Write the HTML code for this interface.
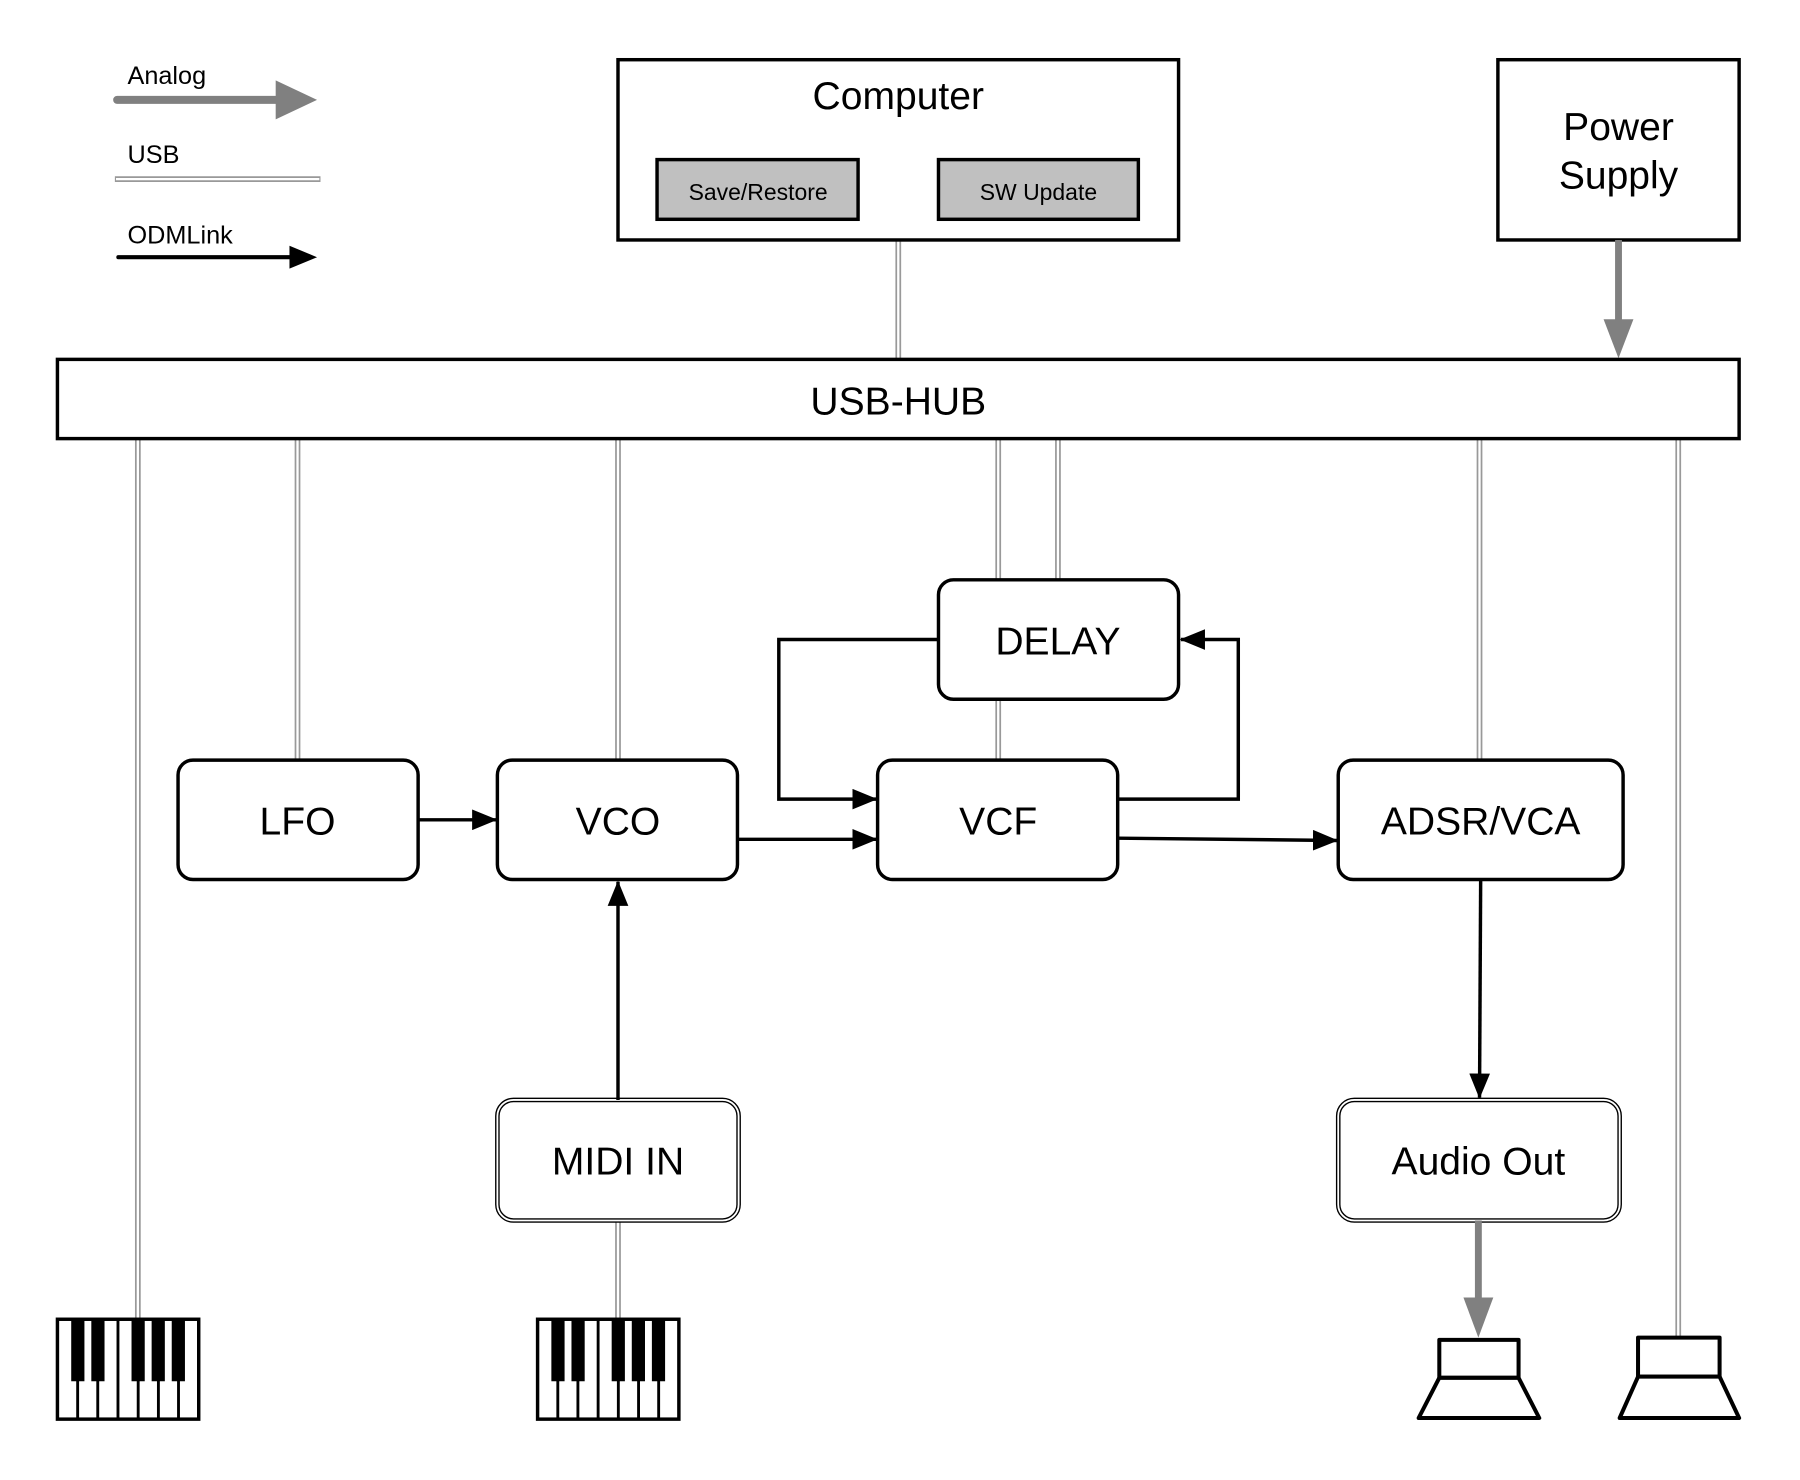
<!DOCTYPE html>
<html><head><meta charset="utf-8"><style>html,body{margin:0;padding:0;background:#fff}svg{display:block}</style></head>
<body>
<svg width="1800" height="1480" viewBox="0 0 1567 1289" preserveAspectRatio="none" xmlns="http://www.w3.org/2000/svg" font-family="Liberation Sans, sans-serif">
<defs>
<marker id="ab" markerWidth="22" markerHeight="18" refX="21" refY="9" orient="auto" markerUnits="userSpaceOnUse" viewBox="0 0 22 18"><path d="M0,0 L22,9 L0,18 z" fill="#000"/></marker>
</defs>
<rect width="1567" height="1289" fill="#fff"/>
<g fill="none">
<g stroke="#999" stroke-width="5">
<path d="M100,156H279M782,209V313M120,382V1148M259,382V662M538,382V662M869,382V505M869,609V662M921,382V505M1288,382V662M1461,382V1165M538,1063V1148"/>
</g>
<g stroke="#fff" stroke-width="2">
<path d="M101,156H278M782,209V313M120,382V1148M259,382V662M538,382V662M869,382V505M869,609V662M921,382V505M1288,382V662M1461,382V1165M538,1063V1148"/>
</g>
</g>
<g font-size="22" fill="#000">
<text x="111" y="73">Analog</text>
<text x="111" y="142">USB</text>
<text x="111" y="212">ODMLink</text>
</g>
<line x1="102" y1="87" x2="242" y2="87" stroke="#808080" stroke-width="7" stroke-linecap="round"/>
<path d="M240,70 L276,87 L240,104z" fill="#808080"/>
<line x1="103" y1="224" x2="255" y2="224" stroke="#000" stroke-width="3.5" stroke-linecap="round"/>
<path d="M252,214 L276,224 L252,234z" fill="#000"/>
<rect x="538" y="52" width="488" height="157" fill="#fff" stroke="#000" stroke-width="3"/>
<text x="782" y="95" font-size="34" text-anchor="middle">Computer</text>
<rect x="572" y="139" width="175" height="52" fill="#c0c0c0" stroke="#000" stroke-width="3"/>
<text x="660" y="174" font-size="20" text-anchor="middle">Save/Restore</text>
<rect x="817" y="139" width="174" height="52" fill="#c0c0c0" stroke="#000" stroke-width="3"/>
<text x="904" y="174" font-size="20" text-anchor="middle">SW Update</text>
<rect x="1304" y="52" width="210" height="157" fill="#fff" stroke="#000" stroke-width="3"/>
<text x="1409" y="122" font-size="34" text-anchor="middle">Power</text>
<text x="1409" y="164" font-size="34" text-anchor="middle">Supply</text>
<line x1="1409" y1="209" x2="1409" y2="280" stroke="#808080" stroke-width="6"/>
<path d="M1396,278 L1409,312 L1422,278z" fill="#808080"/>
<rect x="50" y="313" width="1464" height="69" fill="#fff" stroke="#000" stroke-width="3"/>
<text x="782" y="361" font-size="34" text-anchor="middle">USB-HUB</text>
<g stroke="#000" stroke-width="3" fill="#fff">
<rect x="817" y="505" width="209" height="104" rx="13"/>
<rect x="155" y="662" width="209" height="104" rx="13"/>
<rect x="433" y="662" width="209" height="104" rx="13"/>
<rect x="764" y="662" width="209" height="104" rx="13"/>
<rect x="1165" y="662" width="248" height="104" rx="13"/>
</g>
<g stroke="#000" stroke-width="4" fill="#fff">
<rect x="433" y="958" width="210" height="105" rx="14"/>
<rect x="1165" y="958" width="245" height="105" rx="14"/>
</g>
<g stroke="#fff" stroke-width="1.6" fill="none">
<rect x="433" y="958" width="210" height="105" rx="14"/>
<rect x="1165" y="958" width="245" height="105" rx="14"/>
</g>
<g font-size="34" text-anchor="middle" fill="#000">
<text x="921" y="570">DELAY</text>
<text x="259" y="727">LFO</text>
<text x="538" y="727">VCO</text>
<text x="869" y="727">VCF</text>
<text x="1289" y="727">ADSR/VCA</text>
<text x="538" y="1023">MIDI IN</text>
<text x="1287" y="1023">Audio Out</text>
</g>
<g stroke="#000" stroke-width="3" fill="none" marker-end="url(#ab)">
<path d="M364,714H432"/>
<path d="M642,731H763"/>
<path d="M817,557H678V696H763"/>
<path d="M973,696H1078V557H1028"/>
<path d="M973,730L1164,732"/>
<path d="M1289,766L1288,956"/>
<path d="M538,958V768"/>
</g>
<line x1="1287" y1="1063" x2="1287" y2="1132" stroke="#808080" stroke-width="6"/>
<path d="M1274,1130 L1287,1165 L1300,1130z" fill="#808080"/>
<g id="kb">
<rect x="50" y="1149" width="123" height="87" fill="#fff" stroke="#000" stroke-width="3"/>
<g stroke="#000" stroke-width="2.5">
<path d="M67.6,1149V1236M85.1,1149V1236M102.7,1149V1236M120.3,1149V1236M137.9,1149V1236M155.4,1149V1236"/>
</g>
<g fill="#000">
<rect x="62" y="1149" width="11.5" height="54"/>
<rect x="79.5" y="1149" width="11.5" height="54"/>
<rect x="114.5" y="1149" width="11.5" height="54"/>
<rect x="132" y="1149" width="11.5" height="54"/>
<rect x="149.5" y="1149" width="11.5" height="54"/>
</g>
</g>
<use href="#kb" x="418" y="0"/>
<g stroke="#000" stroke-width="3.5" fill="#fff" stroke-linejoin="round">
<rect x="1253" y="1167" width="69" height="33"/>
<path d="M1253,1200H1322L1340,1235H1235z"/>
<rect x="1426" y="1165" width="71" height="34"/>
<path d="M1426,1199H1497L1514,1235H1410z"/>
</g>
</svg>
</body></html>
